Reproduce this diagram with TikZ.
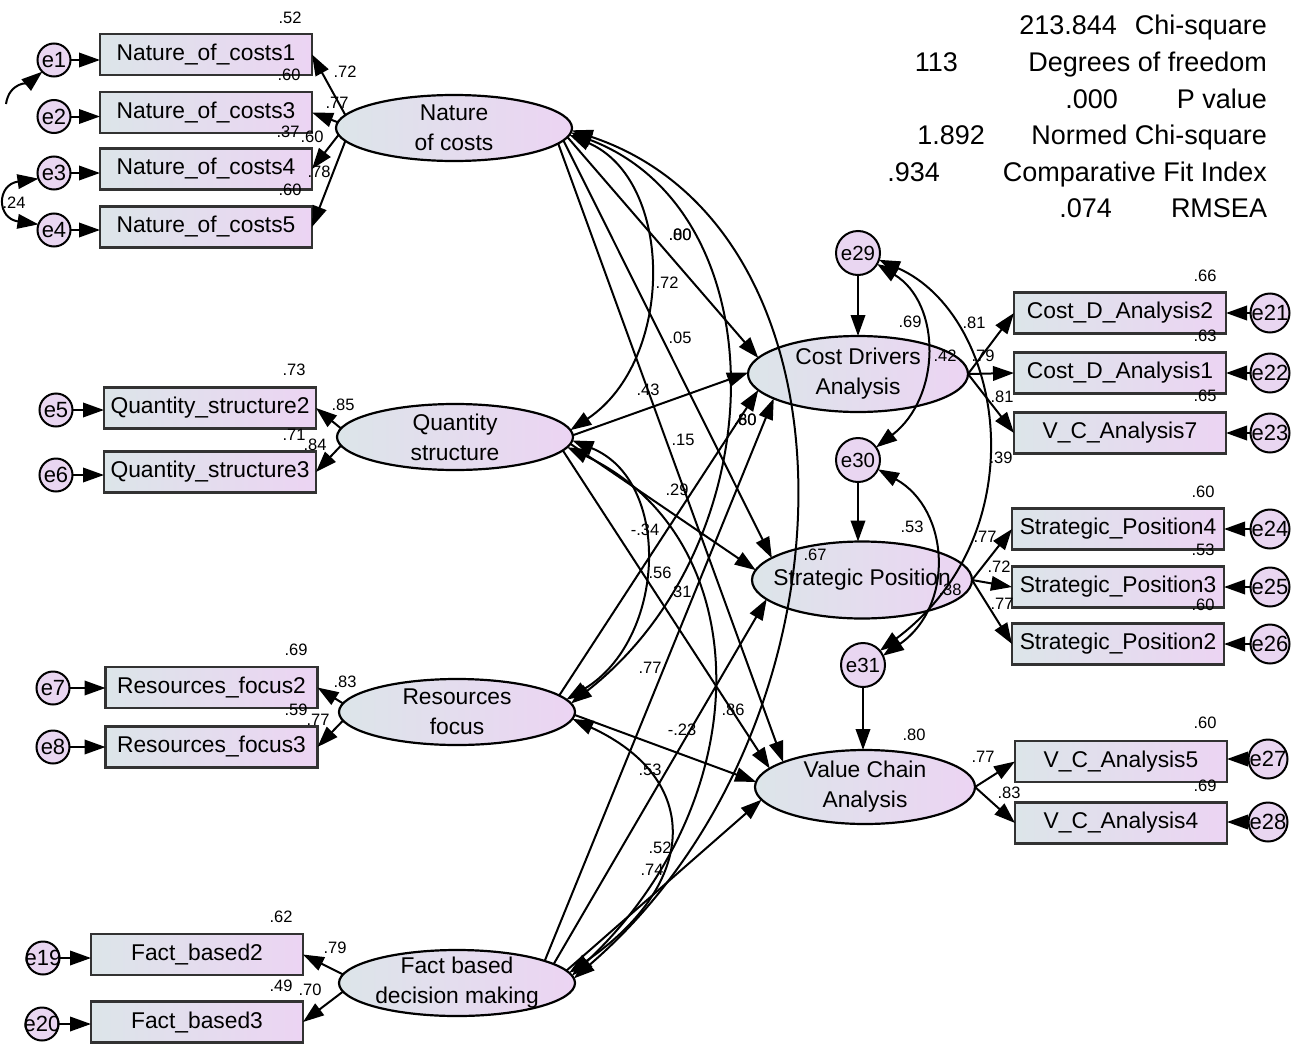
\documentclass[tikz,border=0pt]{standalone}
\usepackage{fontspec}
\setmainfont{Liberation Sans}
\usetikzlibrary{arrows.meta,shapes.geometric,calc}
\definecolor{shadeL}{RGB}{220,229,233}
\definecolor{shadeR}{RGB}{236,212,243}
\definecolor{errfill}{RGB}{233,214,241}
\definecolor{frame}{RGB}{50,50,50}
\begin{document}
\begin{tikzpicture}[x=1pt,y=-1pt,
  every node/.style={inner sep=0pt,outer sep=0pt},
  obs/.style={rectangle,draw=frame,line width=2.6pt,left color=shadeL,right color=shadeR,
    minimum width=212pt,minimum height=41pt,font=\fontsize{22.8}{26}\selectfont},
  lat/.style={ellipse,draw=black,line width=2.2pt,left color=shadeL,right color=shadeR,
    minimum width=236pt,minimum height=66pt},
  latR/.style={lat,minimum width=220pt,minimum height=76pt},
  lattxt/.style={align=center,font=\fontsize{22.8}{30}\selectfont},
  err/.style={circle,draw=black,line width=2pt,fill=errfill,minimum size=33pt},
  errR/.style={err,minimum size=39pt},
  errB/.style={err,minimum size=44pt},
  etxt/.style={font=\fontsize{22}{24}\selectfont},
  lbl/.style={font=\fontsize{16.5}{18}\selectfont},
  fit/.style={anchor=base east,font=\fontsize{27}{30}\selectfont},
  >={Triangle[length=21pt,width=14.5pt]},
  arr/.style={->,line width=2pt},
  cov/.style={<->,line width=2pt},
]
\useasboundingbox (0,0) rectangle (1303,1049);
\fill[white] (0,0) rectangle (1303,1049);

% fit statistics
\node[fit] (fa1) at (1117,35) {213.844};   \node[fit] (fb1) at (1267,35) {Chi-square};
\node[fit] (fa2) at (958,71.5) {113};      \node[fit] (fb2) at (1267,71.5) {Degrees of freedom};
\node[fit] (fa3) at (1118,108) {.000};     \node[fit] (fb3) at (1267,108) {P value};
\node[fit] (fa4) at (985,144.5) {1.892};   \node[fit] (fb4) at (1267,144.5) {Normed Chi-square};
\node[fit] (fa5) at (940,181) {.934};      \node[fit] (fb5) at (1267,181) {Comparative Fit Index};
\node[fit] (fa6) at (1112,217.5) {.074};   \node[fit] (fb6) at (1267,217.5) {RMSEA};

% indicators, left block
\node[obs] (NC1) at (206,54.5) {Nature\_of\_costs1};
\node[obs] (NC3) at (206,112.5) {Nature\_of\_costs3};
\node[obs] (NC4) at (206,169) {Nature\_of\_costs4};
\node[obs] (NC5) at (206,227) {Nature\_of\_costs5};
\node[obs] (QS2) at (210,408) {Quantity\_structure2};
\node[obs] (QS3) at (210,472) {Quantity\_structure3};
\node[obs] (RF2) at (211.5,687.5) {Resources\_focus2};
\node[obs] (RF3) at (211.5,747) {Resources\_focus3};
\node[obs] (FB2) at (197,954.5) {Fact\_based2};
\node[obs] (FB3) at (197,1022) {Fact\_based3};

% indicators, right block
\node[obs] (CD2) at (1120,313) {Cost\_D\_Analysis2};
\node[obs] (CD1) at (1120,373) {Cost\_D\_Analysis1};
\node[obs] (VC7) at (1120,433) {V\_C\_Analysis7};
\node[obs] (SP4) at (1118,529) {Strategic\_Position4};
\node[obs] (SP3) at (1118,587) {Strategic\_Position3};
\node[obs] (SP2) at (1118,644) {Strategic\_Position2};
\node[obs] (VC5) at (1121,761.5) {V\_C\_Analysis5};
\node[obs] (VC4) at (1121,823) {V\_C\_Analysis4};

% latent variables
\node[lat,label={[lattxt]center:Nature\\of costs}] (NC) at (454,128) {};
\node[lat,label={[lattxt]center:Quantity\\structure}] (QS) at (455,437) {};
\node[lat,label={[lattxt]center:Resources\\focus}] (RF) at (457,712) {};
\node[lat,label={[lattxt]center:Fact based\\decision making}] (FB) at (457,983) {};
\node[latR,label={[lattxt]center:Cost Drivers\\Analysis}] (CDA) at (858,374) {};
\node[latR,minimum height=77pt,label={[lattxt]center:Strategic Position}] (SP) at (862,580) {};
\node[latR,minimum height=74pt,label={[lattxt]center:Value Chain\\Analysis}] (VCA) at (865,787) {};

% error terms
\node[err,label={[etxt]center:e1}] (e1) at (54,60) {};
\node[err,label={[etxt]center:e2}] (e2) at (54,116.5) {};
\node[err,label={[etxt]center:e3}] (e3) at (54,173) {};
\node[err,label={[etxt]center:e4}] (e4) at (54,230) {};
\node[err,label={[etxt]center:e5}] (e5) at (56,410) {};
\node[err,label={[etxt]center:e6}] (e6) at (56,475) {};
\node[err,label={[etxt]center:e7}] (e7) at (53,688) {};
\node[err,label={[etxt]center:e8}] (e8) at (53,747) {};
\node[err,label={[etxt]center:e19}] (e19) at (43,958) {};
\node[err,label={[etxt]center:e20}] (e20) at (42,1024) {};
\node[errR,label={[etxt]center:e21}] (e21) at (1270,313) {};
\node[errR,label={[etxt]center:e22}] (e22) at (1270,373) {};
\node[errR,label={[etxt]center:e23}] (e23) at (1270,433) {};
\node[errR,label={[etxt]center:e24}] (e24) at (1270,529) {};
\node[errR,label={[etxt]center:e25}] (e25) at (1270,587) {};
\node[errR,label={[etxt]center:e26}] (e26) at (1270,644) {};
\node[errR,label={[etxt]center:e27}] (e27) at (1268,759) {};
\node[errR,label={[etxt]center:e28}] (e28) at (1268,822) {};
\node[errB,label={[etxt,font=\fontsize{20.5}{22}\selectfont]center:e29}] (e29) at (858,253) {};
\node[errB,label={[etxt,font=\fontsize{20.5}{22}\selectfont]center:e30}] (e30) at (858,460) {};
\node[errB,label={[etxt,font=\fontsize{20.5}{22}\selectfont]center:e31}] (e31) at (863,665) {};

% estimates, left block
\node[lbl] (s1) at (290,18) {.52};
\node[lbl] (s2) at (345,72) {.72};
\node[lbl] (s3) at (289,75) {.60};
\node[lbl] (s4) at (337,103) {.77};
\node[lbl] (s5) at (288,132) {.37};
\node[lbl] (s6) at (312,137) {.60};
\node[lbl] (s7) at (319,172) {.78};
\node[lbl] (s8) at (290,190) {.60};
\node[lbl] (s9) at (14,203) {.24};
\node[lbl] (s10) at (294,370) {.73};
\node[lbl] (s11) at (343,405) {.85};
\node[lbl] (s12) at (294,435) {.71};
\node[lbl] (s13) at (315,445) {.84};
\node[lbl] (s14) at (296,650) {.69};
\node[lbl] (s15) at (345,682) {.83};
\node[lbl] (s16) at (296,710) {.59};
\node[lbl] (s17) at (318,720) {.77};
\node[lbl] (s18) at (281,917) {.62};
\node[lbl] (s19) at (335,948) {.79};
\node[lbl] (s20) at (281,986) {.49};
\node[lbl] (s21) at (310,990) {.70};

% estimates, structural part
\node[lbl] (m1) at (680,235) {.00};
\node[lbl] (m1b) at (680,235) {.80};
\node[lbl] (m2) at (667,283) {.72};
\node[lbl] (m3) at (680,338) {.05};
\node[lbl] (m4) at (648,390) {.43};
\node[lbl] (m5) at (683,440) {.15};
\node[lbl] (m6) at (745,420) {.60};
\node[lbl] (m6b) at (745,420) {.80};
\node[lbl] (m7) at (677,490) {.29};
\node[lbl] (m8) at (645,530) {-.34};
\node[lbl] (m9) at (660,573) {.56};
\node[lbl] (m10) at (680,592) {.31};
\node[lbl] (m11) at (650,668) {.77};
\node[lbl] (m12) at (733,710) {.86};
\node[lbl] (m13) at (682,730) {-.23};
\node[lbl] (m14) at (650,770) {.53};
\node[lbl] (m15) at (660,848) {.52};
\node[lbl] (m16) at (652,870) {.74};

% estimates, right block
\node[lbl] (t1) at (1205,276) {.66};
\node[lbl] (t2) at (974,323) {.81};
\node[lbl] (t3) at (910,322) {.69};
\node[lbl] (t4) at (945,356) {.42};
\node[lbl] (t5) at (983,356) {.79};
\node[lbl] (t6) at (1205,336) {.63};
\node[lbl] (t7) at (1002,397) {.81};
\node[lbl] (t8) at (1205,396) {.65};
\node[lbl] (t9) at (1001,458) {.39};
\node[lbl] (t10) at (1203,492) {.60};
\node[lbl] (t11) at (912,527) {.53};
\node[lbl] (t12) at (985,537) {.77};
\node[lbl] (t13) at (815,555) {.67};
\node[lbl] (t14) at (999,567) {.72};
\node[lbl] (t15) at (1203,550) {.53};
\node[lbl] (t16) at (950,590) {.38};
\node[lbl] (t17) at (1002,604) {.77};
\node[lbl] (t18) at (1203,605) {.60};
\node[lbl] (t19) at (914,735) {.80};
\node[lbl] (t20) at (1205,723) {.60};
\node[lbl] (t21) at (983,757) {.77};
\node[lbl] (t22) at (1009,793) {.83};
\node[lbl] (t23) at (1205,786) {.69};

% error terms into indicators
\foreach \e/\b in {e1/NC1,e2/NC3,e3/NC4,e4/NC5,e5/QS2,e6/QS3,e7/RF2,e8/RF3,e19/FB2,e20/FB3}
  \draw[arr] (\e) -- (\e -| \b.west);
\foreach \e/\b in {e21/CD2,e22/CD1,e23/VC7,e24/SP4,e25/SP3,e26/SP2,e27/VC5,e28/VC4}
  \draw[arr] (\e) -- (\e -| \b.east);

% covariances among error terms on the left
\coordinate (e1in) at (6,104);
\draw[arr] (e1in) .. controls +(3,-22) and +(-12,10) .. ($(e1)+(135:16.5)$);
\draw[cov] ($(e3)+(160:16.5)$) .. controls +(-42,6) and +(-42,-6) .. ($(e4)+(200:16.5)$);

% loadings, left block
\draw[arr] ($(NC)+(203:118 and 33)$) -- (NC1.east);
\draw[arr] ($(NC)+(190:118 and 33)$) -- (NC3.east);
\draw[arr] ($(NC)+(168:118 and 33)$) -- (NC4.east);
\draw[arr] ($(NC)+(157:118 and 33)$) -- (NC5.east);
\draw[arr] ($(QS)+(195:118 and 33)$) -- (QS2.east);
\draw[arr] ($(QS)+(165:118 and 33)$) -- (QS3.east);
\draw[arr] ($(RF)+(195:118 and 33)$) -- (RF2.east);
\draw[arr] ($(RF)+(165:118 and 33)$) -- (RF3.east);
\draw[arr] ($(FB)+(195:118 and 33)$) -- (FB2.east);
\draw[arr] ($(FB)+(165:118 and 33)$) -- (FB3.east);

% loadings, right block
\draw[arr] (CDA.east) -- (CD2.west);
\draw[arr] (CDA.east) -- (CD1.west);
\draw[arr] (CDA.east) -- (VC7.west);
\draw[arr] (SP.east) -- (SP4.west);
\draw[arr] (SP.east) -- (SP3.west);
\draw[arr] (SP.east) -- (SP2.west);
\draw[arr] (VCA.east) -- (VC5.west);
\draw[arr] (VCA.east) -- (VC4.west);

% disturbances
\draw[arr] (e29) -- (CDA);
\draw[arr] (e30) -- (e30 |- SP.north);
\draw[arr] (e31) -- (e31 |- VCA.north);
\draw[cov] ($(e29)+(30:22)$) .. controls +(65,40) and +(65,-50) .. ($(e30)+(-35:22)$);
\draw[cov] ($(e29)+(18:22)$) .. controls +(125,55) and +(160,-120) .. ($(e31)+(-40:22)$);
\draw[cov] ($(e30)+(25:22)$) .. controls +(72,40) and +(72,-50) .. ($(e31)+(-25:22)$);

% structural paths
\draw[arr] ($(NC)+(16:118 and 33)$) -- ($(CDA)+(205:110 and 38)$);
\draw[arr] ($(NC)+(22:118 and 33)$) -- ($(SP)+(215:110 and 38)$);
\draw[arr] ($(NC)+(28:118 and 33)$) -- ($(VCA)+(222:110 and 37)$);
\draw[arr] ($(QS)+(-3:118 and 33)$) -- ($(CDA)+(182:110 and 38)$);
\draw[arr] ($(QS)+(12:118 and 33)$) -- ($(SP)+(195:110 and 38)$);
\draw[arr] ($(QS)+(24:118 and 33)$) -- ($(VCA)+(210:110 and 37)$);
\draw[arr] ($(RF)+(-30:118 and 33)$) -- ($(CDA)+(155:110 and 38)$);
\draw[arr] ($(RF)+(5:118 and 33)$) -- ($(VCA)+(188:110 and 37)$);
\draw[arr] ($(FB)+(-42:118 and 33)$) -- ($(CDA)+(140:110 and 38)$);
\draw[arr] ($(FB)+(-35:118 and 33)$) -- ($(SP)+(150:110 and 38)$);
\draw[arr] ($(FB)+(-22:118 and 33)$) -- ($(VCA)+(160:110 and 37)$);

% covariances among exogenous factors
\draw[cov] ($(NC)+(12:118 and 33)$) .. controls +(105,45) and +(105,-70) .. ($(QS)+(-12:118 and 33)$);
\draw[cov] ($(NC)+(8:118 and 33)$) .. controls +(210,80) and +(205,-160) .. ($(RF)+(-15:118 and 33)$);
\draw[cov] ($(NC)+(4:118 and 33)$) .. controls +(300,100) and +(290,-250) .. ($(FB)+(-8:118 and 33)$);
\draw[cov] ($(QS)+(6:118 and 33)$) .. controls +(100,40) and +(100,-60) .. ($(RF)+(-22:118 and 33)$);
\draw[cov] ($(QS)+(18:118 and 33)$) .. controls +(190,90) and +(190,-180) .. ($(FB)+(-13:118 and 33)$);
\draw[cov] ($(RF)+(12:118 and 33)$) .. controls +(130,60) and +(130,-90) .. ($(FB)+(-18:118 and 33)$);
\end{tikzpicture}
\end{document}
